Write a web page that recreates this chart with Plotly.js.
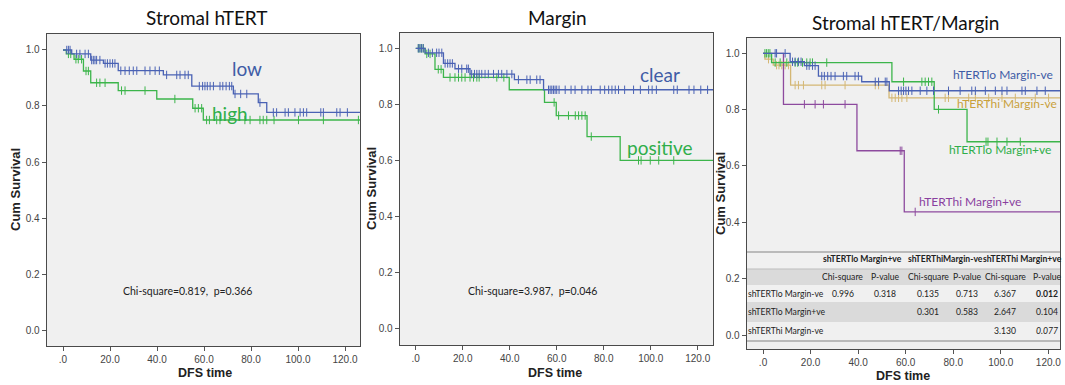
<!DOCTYPE html>
<html><head><meta charset="utf-8">
<script src="https://cdn.plot.ly/plotly-3.0.1.min.js"></script>
<style>html,body{margin:0;padding:0;background:#fff}#chart{width:1065px;height:385px}</style>
</head><body><div id="chart"></div>
<script>
// ---------- DATA ----------
// Panel 1: Stromal hTERT
const p1LowDropT = [3.7, 11.8, 17.2, 23.5, 42.7, 54.8, 72.5, 83.1, 86.7];
const p1LowSurv  = [0.986, 0.964, 0.952, 0.926, 0.911, 0.871, 0.843, 0.812, 0.777];
const p1LowCens  = [1.6, 2.3, 3.0, 5.8, 7.2, 9.4, 10.8, 12.2, 12.9, 13.6, 14.3, 15.7, 17.9, 18.9, 20.0, 21.1, 22.1, 24.6, 26.4, 28.2, 29.9, 31.4, 34.9, 37.0, 39.2, 41.0, 44.1, 48.4, 49.8, 51.9, 53.3, 58.0, 59.4, 60.4, 61.4, 62.6, 64.0, 66.8, 68.0, 69.4, 70.8, 71.8, 73.2, 75.6, 78.2, 83.8, 89.5, 90.9, 94.5, 95.9, 98.7, 100.9, 102.3, 103.7, 109.7, 110.8, 116.5, 117.9, 121.0];
const p1HighDropT = [1.4, 4.7, 8.7, 11.8, 23.5, 39.9, 55.2, 59.7];
const p1HighSurv  = [0.986, 0.967, 0.925, 0.883, 0.855, 0.825, 0.792, 0.75];
const p1HighCens  = [2.3, 3.3, 5.5, 6.5, 7.9, 9.8, 10.8, 14.3, 15.7, 17.9, 24.9, 26.4, 34.9, 47.6, 56.2, 57.6, 59.0, 61.1, 62.3, 65.4, 66.8, 77.4, 79.6, 83.8, 85.2, 86.7, 89.8, 100.2, 110.8, 125.7];
const p1Labels = ['low', 'high'];
const p1Stat = 'Chi-square=0.819,  p=0.366';

// Panel 2: Margin
const p2ClearDropT = [3.96, 11.8, 16.7, 23.1, 42.0, 54.4];
const p2ClearSurv  = [0.984, 0.946, 0.927, 0.908, 0.888, 0.852];
const p2ClearCens  = [1.1, 1.8, 2.5, 3.2, 5.4, 7.1, 8.9, 9.9, 11.1, 12.5, 13.6, 14.6, 15.6, 18.2, 19.6, 21.7, 22.4, 23.8, 25.0, 26.0, 27.0, 28.1, 29.5, 30.9, 33.1, 35.2, 36.6, 38.8, 40.9, 43.7, 47.3, 48.7, 51.5, 52.9, 56.5, 57.2, 57.9, 58.6, 59.3, 60.0, 61.0, 63.6, 66.1, 67.8, 70.7, 73.3, 74.7, 78.5, 80.4, 82.1, 83.5, 84.9, 86.3, 88.9, 92.7, 95.6, 99.1, 100.6, 102.4, 109.8, 111.3, 116.3, 118.4, 121.3, 124.2];
const p2PosDropT = [4.0, 8.2, 11.8, 39.8, 54.8, 59.8, 72.9, 87.0];
const p2PosSurv  = [0.98, 0.925, 0.896, 0.852, 0.807, 0.76, 0.685, 0.60];
const p2PosCens  = [1.1, 1.8, 2.5, 3.2, 4.7, 6.1, 9.6, 10.8, 14.6, 16.7, 18.2, 19.6, 21.0, 23.1, 24.6, 26.0, 27.0, 34.5, 37.5, 58.9, 60.8, 65.0, 67.9, 69.3, 70.7, 72.1, 74.7, 94.8, 95.9, 99.8, 103.4, 109.8];
const p2Labels = ['clear', 'positive'];
const p2Stat = 'Chi-square=3.987,  p=0.046';

// Panel 3: Stromal hTERT/Margin
const p3LoNegDropT = [11.4, 17.4, 23.3, 41.5, 53.1];
const p3LoNegSurv  = [0.970, 0.956, 0.919, 0.899, 0.867];
const p3LoNegCens  = [5.1, 5.7, 9.3, 12.4, 13.5, 14.9, 16.0, 18.4, 19.4, 20.8, 21.9, 24.7, 25.8, 27.2, 28.6, 30.3, 33.8, 35.2, 38.7, 40.1, 47.2, 48.6, 51.4, 52.1, 57.0, 58.1, 59.1, 60.1, 61.2, 62.6, 66.1, 68.9, 71.7, 78.0, 82.9, 87.8, 89.3, 93.5, 97.7, 100.5, 102.6, 108.9, 110.3, 115.2, 118.7];
const p3HiNegDropT = [0.8, 4.3, 11.6, 53.0];
const p3HiNegSurv  = [0.979, 0.958, 0.887, 0.842];
const p3HiNegCens  = [2.3, 5.7, 6.7, 7.9, 9.3, 10.7, 13.5, 14.9, 17.0, 24.7, 26.1, 34.5, 47.2, 48.6, 54.2, 55.6, 57.0, 58.4, 60.5, 76.6, 78.0, 86.5, 89.3, 94.9, 100.5, 106.1, 114.5, 120.1];
const p3LoPosDropT = [3.6, 54.2, 72.0, 85.8];
const p3LoPosSurv  = [0.967, 0.899, 0.801, 0.686];
const p3LoPosCens  = [0.8, 1.5, 2.2, 2.9, 5.1, 7.2, 10.0, 13.5, 14.6, 16.6, 18.4, 19.8, 20.8, 26.8, 59.1, 66.8, 68.2, 69.6, 71.0, 73.8, 93.8, 94.6, 98.4, 102.6, 108.2];
const p3HiPosDropT = [8.6, 39.5, 59.4];
const p3HiPosSurv  = [0.819, 0.654, 0.437];
const p3HiPosCens  = [17.4, 21.9, 25.4, 34.5, 57.7, 58.4, 64.0];
const p3Labels = ['hTERTlo Margin-ve', 'hTERThi Margin-ve', 'hTERTlo Margin+ve', 'hTERThi Margin+ve'];

// Pairwise log-rank table (panel 3)
const tableColHeaders = ['shTERTlo Margin+ve', 'shTERThiMargin-ve', 'shTERThi Margin+ve'];
const tableSubHeaders = ['Chi-square', 'P-value'];
const tableRowLabels  = ['shTERTlo Margin-ve', 'shTERTlo Margin+ve', 'shTERThi Margin-ve'];
const tableChi = [['0.996', '0.135', '6.367'], ['', '0.301', '2.647'], ['', '', '3.130']];
const tableP   = [['0.318', '0.713', '0.012'], ['', '0.583', '0.104'], ['', '', '0.077']];

const panelTitles = ['Stromal hTERT', 'Margin', 'Stromal hTERT/Margin'];
const xTitle = 'DFS time';
const yTitle = 'Cum Survival';
const xTickVals = [0, 20, 40, 60, 80, 100, 120];
const xTickText = ['.0', '20.0', '40.0', '60.0', '80.0', '100.0', '120.0'];
const yTickVals = [0, 0.2, 0.4, 0.6, 0.8, 1.0];
const yTickText = ['0.0', '0.2', '0.4', '0.6', '0.8', '1.0'];
const followUpEnd = 130;

// ---------- STYLE ----------
const W = 1065, H = 385;
const BLUE = '#4a62b4', GREEN = '#3cb54b', TAN = '#d4b774', PURPLE = '#8d4a9e';
const BLUE_T = '#3f5ca6', GREEN_T = '#2fae4a', TAN_T = '#c9a13c', PURPLE_T = '#8a3f9f';
const px = v => v / W, py = v => 1 - v / H;

function stepAt(dropT, surv, t) {
  let s = 1;
  for (let i = 0; i < dropT.length; i++) if (t >= dropT[i]) s = surv[i];
  return s;
}
function kmTraces(dropT, surv, cens, color, ax) {
  const xs = [0].concat(dropT, [followUpEnd]);
  const ys = [1].concat(surv, [surv[surv.length - 1]]);
  return [
    { type: 'scatter', mode: 'lines', x: xs, y: ys, line: { shape: 'hv', color: color, width: 1.3 },
      xaxis: 'x' + ax, yaxis: 'y' + ax, hoverinfo: 'skip', showlegend: false },
    { type: 'scatter', mode: 'markers', x: cens, y: cens.map(t => stepAt(dropT, surv, t)),
      marker: { symbol: 'line-ns-open', size: 6, color: color, line: { width: 1, color: color } },
      xaxis: 'x' + ax, yaxis: 'y' + ax, hoverinfo: 'skip', showlegend: false }
  ];
}

const traces = [].concat(
  kmTraces(p1HighDropT, p1HighSurv, p1HighCens, GREEN, ''),
  kmTraces(p1LowDropT, p1LowSurv, p1LowCens, BLUE, ''),
  kmTraces(p2PosDropT, p2PosSurv, p2PosCens, GREEN, '2'),
  kmTraces(p2ClearDropT, p2ClearSurv, p2ClearCens, BLUE, '2'),
  kmTraces(p3HiNegDropT, p3HiNegSurv, p3HiNegCens, TAN, '3'),
  kmTraces(p3HiPosDropT, p3HiPosSurv, p3HiPosCens, PURPLE, '3'),
  kmTraces(p3LoPosDropT, p3LoPosSurv, p3LoPosCens, GREEN, '3'),
  kmTraces(p3LoNegDropT, p3LoNegSurv, p3LoNegCens, BLUE, '3')
);

const tickFont = { family: 'Liberation Sans Narrow, Liberation Sans, Arial, sans-serif', size: 10, color: '#444' };
function xAxis(dom, rng, anchor) {
  return { domain: dom, range: rng, anchor: anchor, showgrid: false, zeroline: false, showline: true, mirror: true,
    linecolor: '#4a4a4a', linewidth: 1.3, ticks: 'outside', ticklen: 4, tickwidth: 1, tickcolor: '#555',
    tickvals: xTickVals, ticktext: xTickText, tickfont: tickFont, fixedrange: true };
}
function yAxis(dom, rng, anchor) {
  return { domain: dom, range: rng, anchor: anchor, showgrid: false, zeroline: false, showline: true, mirror: true,
    linecolor: '#4a4a4a', linewidth: 1.3, ticks: 'outside', ticklen: 4, tickwidth: 1, tickcolor: '#555',
    tickvals: yTickVals, ticktext: yTickText, tickfont: tickFont, fixedrange: true };
}

const calib = 'Lato, "Open Sans", sans-serif';
const boldAx = { family: 'Liberation Sans Narrow, Liberation Sans, Arial, sans-serif', size: 13, color: '#222' };
const ann = [];
function A(text, x, y, font, extra) {
  ann.push(Object.assign({ text: text, x: px(x), y: py(y), xref: 'paper', yref: 'paper', showarrow: false,
    xanchor: 'center', yanchor: 'middle', font: font }, extra || {}));
}
// titles
A(panelTitles[0], 207, 17, { family: calib, size: 19, color: '#111' });
A(panelTitles[1], 557, 17, { family: calib, size: 19, color: '#111' });
A(panelTitles[2], 905, 22, { family: calib, size: 19, color: '#111' });
// axis titles
[205, 555, 903].forEach((x, i) => A('<b>' + xTitle + '</b>', x, i === 2 ? 376 : 373, Object.assign({}, boldAx, { size: 12.5 })));
[[16, 190], [371, 189], [721, 194]].forEach(p => A('<b>' + yTitle + '</b>', p[0], p[1], boldAx, { textangle: -90 }));
// group labels
A(p1Labels[0], 247, 69, { family: calib, size: 19, color: BLUE_T });
A(p1Labels[1], 230, 113, { family: calib, size: 19, color: GREEN_T });
A(p2Labels[0], 660, 74, { family: calib, size: 19, color: BLUE_T });
A(p2Labels[1], 659, 147, { family: calib, size: 19, color: GREEN_T });
A(p3Labels[0], 1003, 75, { family: calib, size: 12, color: BLUE_T });
A(p3Labels[1], 1007, 104, { family: calib, size: 12, color: TAN_T });
A(p3Labels[2], 1000, 149, { family: calib, size: 12, color: GREEN_T });
A(p3Labels[3], 970, 202, { family: calib, size: 12, color: PURPLE_T });
// stats
A(p1Stat, 187, 291, { family: calib, size: 10.5, color: '#222' });
A(p2Stat, 532, 291, { family: calib, size: 10.5, color: '#222' });

// table
const tFont = { family: calib, size: 8.6, color: '#222' };
const grpX = [862, 945, 1022];
const subX = [843, 885, 928, 967, 1005, 1047];
const rowY = [293.5, 312, 330.5];
tableColHeaders.forEach((t, i) => A('<b>' + t + '</b>', grpX[i], 258.5, tFont));
for (let i = 0; i < 3; i++) { A(tableSubHeaders[0], subX[2 * i], 276.5, tFont); A(tableSubHeaders[1], subX[2 * i + 1], 276.5, tFont); }
tableRowLabels.forEach((t, r) => A(t, 746, rowY[r], tFont, { xanchor: 'left' }));
tableChi.forEach((row, r) => row.forEach((v, c) => { if (v) A(v, subX[2 * c], rowY[r], tFont); }));
tableP.forEach((row, r) => row.forEach((v, c) => {
  if (!v) return;
  const p = parseFloat(v);
  const txt = p < 0.05 ? '<b>' + v + '</b>' : (p < 0.1 ? '<i>' + v + '</i>' : v);
  A(txt, subX[2 * c + 1], rowY[r], tFont);
}));

const shapes = [
  { type: 'rect', xref: 'paper', yref: 'paper', x0: px(747), x1: px(1060), y0: py(285), y1: py(269), fillcolor: '#dadada', line: { width: 0 }, layer: 'above' },
  { type: 'rect', xref: 'paper', yref: 'paper', x0: px(747), x1: px(1060), y0: py(322), y1: py(302), fillcolor: '#dadada', line: { width: 0 }, layer: 'above' },
  { type: 'line', xref: 'paper', yref: 'paper', x0: px(747), x1: px(1060), y0: py(252), y1: py(252), line: { color: '#a9a9a9', width: 1.5 }, layer: 'above' },
  { type: 'line', xref: 'paper', yref: 'paper', x0: px(747), x1: px(1060), y0: py(269), y1: py(269), line: { color: '#bdbdbd', width: 1 }, layer: 'above' },
  { type: 'line', xref: 'paper', yref: 'paper', x0: px(747), x1: px(1060), y0: py(341), y1: py(341), line: { color: '#a9a9a9', width: 1.5 }, layer: 'above' }
];

const layout = {
  width: W, height: H, margin: { l: 0, r: 0, t: 0, b: 0 },
  paper_bgcolor: '#ffffff', plot_bgcolor: '#f0f0f0', showlegend: false,
  xaxis: xAxis([px(47), px(360)], [-6.81, 126.38], 'y'),
  yaxis: yAxis([py(346), py(34)], [-0.0571, 1.0571], 'x'),
  xaxis2: xAxis([px(400), px(713)], [-6.69, 126.5], 'y2'),
  yaxis2: yAxis([py(345), py(33)], [-0.0589, 1.0546], 'x2'),
  xaxis3: xAxis([px(747), px(1060)], [-6.74, 124.9], 'y3'),
  yaxis3: yAxis([py(349), py(38)], [-0.0497, 1.0543], 'x3'),
  annotations: ann, shapes: shapes
};
Plotly.newPlot('chart', traces, layout, { displayModeBar: false, staticPlot: true });
</script></body></html>
